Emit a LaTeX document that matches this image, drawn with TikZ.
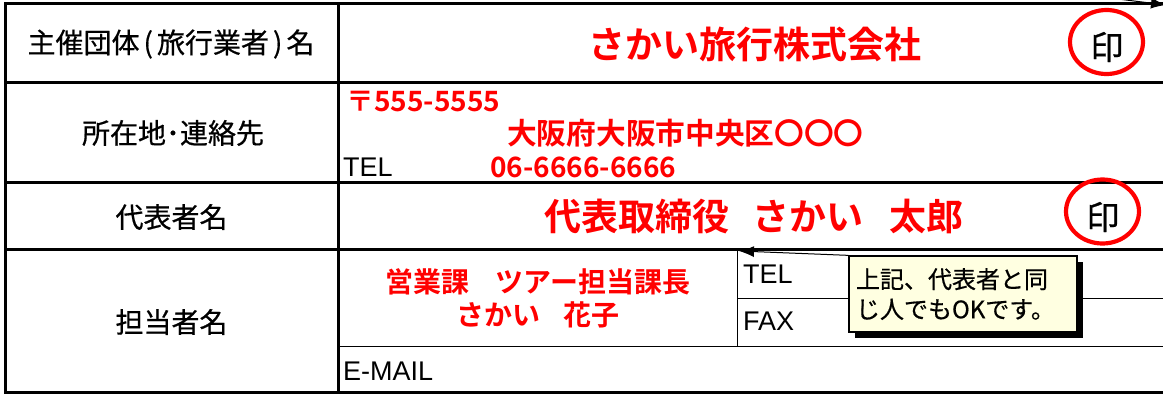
\documentclass[tikz,border=0pt]{standalone}
\usepackage{fontspec}
\setmainfont{Noto Sans CJK JP}[BoldFont={Noto Sans CJK JP Bold}]
\newfontfamily\heavyjp{Noto Sans CJK JP}[FakeBold=0.6]
\newfontfamily\latinsans{Liberation Sans}
\usetikzlibrary{shapes.geometric,shadows,arrows.meta}
\definecolor{jred}{RGB}{255,0,0}
\definecolor{noteyellow}{RGB}{255,255,225}
\begin{document}
\begin{tikzpicture}[x=1pt,y=-1pt,
  thickrule/.style={line width=3pt},
  thinrule/.style={line width=1pt},
  lbl/.style={inner sep=0pt, font=\heavyjp\fontsize{28}{32}\selectfont},
  latinlbl/.style={inner sep=0pt, anchor=west, font=\latinsans\fontsize{27}{32}\selectfont},
  redbig/.style={inner sep=0pt, text=jred, font=\bfseries\fontsize{37}{40}\selectfont},
  redmid/.style={inner sep=0pt, text=jred, font=\bfseries\fontsize{29.7}{34}\selectfont},
  redsmall/.style={inner sep=0pt, text=jred, font=\bfseries\fontsize{28}{33}\selectfont},
  seal/.style={draw=jred, line width=4.2pt, ellipse, minimum width=73pt, minimum height=64pt, inner sep=0pt},
  sealchar/.style={inner sep=0pt, font=\heavyjp\fontsize{33}{36}\selectfont},
  note/.style={draw=black, line width=1.3pt, fill=noteyellow, minimum width=228pt, minimum height=76pt,
    text width=214pt, inner xsep=7pt, inner ysep=0pt, align=left,
    font=\heavyjp\fontsize{24}{30}\selectfont,
    drop shadow={shadow xshift=6pt, shadow yshift=-6pt, opacity=1, fill=black}},
  pointer/.style={line width=1pt, -{Latex[length=15pt,width=11pt]}}
]
\useasboundingbox (0,0) rectangle (1163,394);
% table rules
\draw[thickrule] (5,3.5) -- (1163,3.5);
\draw[thickrule] (5,2) -- (5,392) -- (1163,392);
\draw[thickrule] (338.5,2) -- (338.5,392);
\draw[thickrule] (5,82.5) -- (1163,82.5);
\draw[thickrule] (5,182.5) -- (1163,182.5);
\draw[thickrule] (5,249.5) -- (1163,249.5);
\draw[thinrule] (338.5,346) -- (1163,346);
\draw[thinrule] (737.5,249.5) -- (737.5,346);
\draw[thinrule] (737.5,298) -- (1163,298);

% left column labels
\node[lbl] (h1) at (171,44) {主催団体\kern4pt(\kern4pt旅行業者\kern4pt)\kern4pt名};
\node[lbl] (h2) at (173,133) {所在地･連絡先};
\node[lbl] (h3) at (171.5,217) {代表者名};
\node[lbl] (h4) at (171.5,322) {担当者名};

% row 1
\node[redbig] (company) at (755,44) {さかい旅行株式会社};
\node[seal] (seal1) at (1106.5,42) {};
\node[sealchar] (in1) at (1107,47) {印};

% row 2
\node[redsmall, anchor=west] (zip) at (346,102) {〒555-5555};
\node[redmid, anchor=west] (addr) at (507,133) {大阪府大阪市中央区〇〇〇};
\node[latinlbl] (tel1) at (343,167) {TEL};
\node[redsmall, anchor=west] (telnum) at (490,167) {06-6666-6666};

% row 3
\node[redbig] (rep) at (754,216) {代表取締役\hspace{24pt}さかい\hspace{26pt}太郎};
\node[seal] (seal2) at (1102.5,211.5) {};
\node[sealchar] (in2) at (1103,217) {印};

% row 4
\node[redsmall] (staff1) at (538,282) {営業課\hspace{26pt}ツアー担当課長};
\node[redsmall] (staff2) at (538,315) {さかい\hspace{24pt}花子};
\node[latinlbl] (tel2) at (743,274) {TEL};
\node[latinlbl] (fax) at (743,321) {FAX};
\node[latinlbl] (mail) at (343,371) {E-MAIL};

% callout
\node[note] (call) at (963,294) {上記、代表者と同\\じ人でもOKです。};
\coordinate (tip) at (739,251);
\draw[pointer] (call.north west) -- (tip);

% pointer at top right edge
\coordinate (tr0) at (1118,-1);
\coordinate (tr1) at (1166,5);
\draw[pointer] (tr0) -- (tr1);
\end{tikzpicture}
\end{document}
